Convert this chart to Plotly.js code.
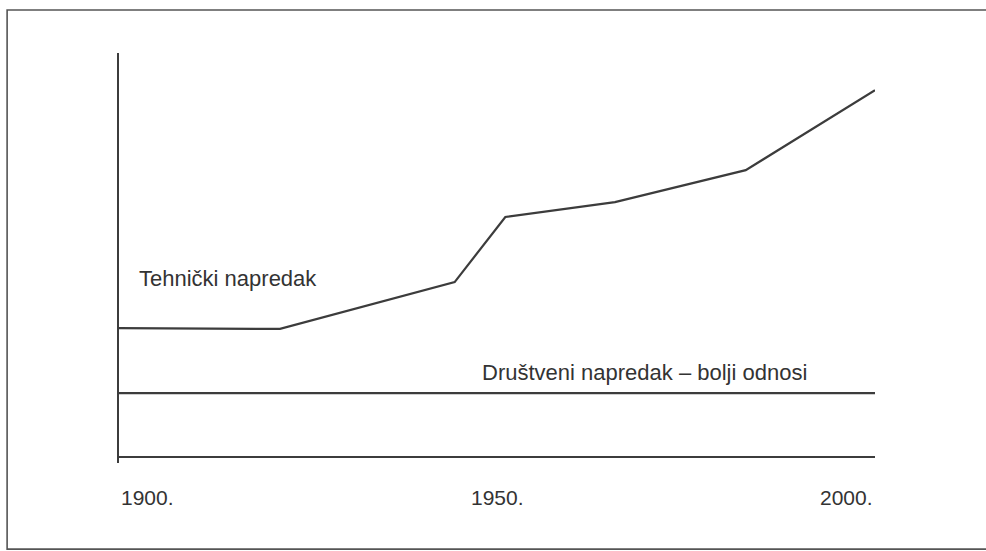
<!DOCTYPE html>
<html>
<head>
<meta charset="utf-8">
<script src="https://cdn.plot.ly/plotly-3.0.1.min.js"></script>
<style>
html,body{margin:0;padding:0;background:#fff;}
#chart{width:986px;height:551px;}
</style>
</head>
<body>
<div id="chart"></div>
<script>
// Data
const years = [1900, 1921.3, 1944.4, 1951.1, 1965.6, 1982.9, 2000];
const tehnicki = [31.9, 31.7, 43.3, 59.4, 63.1, 71.0, 90.8];
const drustveniYears = [1900, 2000];
const drustveni = [15.8, 15.8];
const tickYears = [1900, 1950, 2000];
const tickLabels = ["1900.", "1950.", "2000."];
const seriesNames = ["Tehnički napredak", "Društveni napredak – bolji odnosi"];

const lineColor = "#3c3c3c";
const textColor = "#333333";
const fontFam = "Liberation Sans, Arial, sans-serif";

const traces = [
  {x: years, y: tehnicki, mode: "lines", name: seriesNames[0],
   line: {color: lineColor, width: 2.2}, hoverinfo: "skip"},
  {x: drustveniYears, y: drustveni, mode: "lines", name: seriesNames[1],
   line: {color: lineColor, width: 2.2}, hoverinfo: "skip"}
];

const anchors = ["left", "center", "right"];
const annotations = tickYears.map((yr, i) => ({
  x: yr, y: -0.085, xref: "x", yref: "paper",
  text: tickLabels[i], showarrow: false, xanchor: anchors[i], yanchor: "middle",
  font: {family: fontFam, size: 21, color: textColor}
}));
annotations.push({
  x: 1902.4, y: 44.1, xref: "x", yref: "y", text: seriesNames[0], showarrow: false,
  xanchor: "left", yanchor: "middle", font: {family: fontFam, size: 22, color: textColor}
});
annotations.push({
  x: 1947.8, y: 21.0, xref: "x", yref: "y", text: seriesNames[1], showarrow: false,
  xanchor: "left", yanchor: "middle", font: {family: fontFam, size: 22, color: textColor}
});

const layout = {
  width: 986, height: 551,
  margin: {l: 119, r: 111, t: 53, b: 88},
  paper_bgcolor: "#ffffff", plot_bgcolor: "#ffffff",
  showlegend: false,
  xaxis: {range: [1900, 2000], showgrid: false, zeroline: false, showline: false,
          showticklabels: false, ticks: "", fixedrange: true},
  yaxis: {range: [-1.485, 100], showgrid: false, showticklabels: false, ticks: "",
          showline: true, linecolor: lineColor, linewidth: 2.2, mirror: false,
          zeroline: true, zerolinecolor: lineColor, zerolinewidth: 2.2, fixedrange: true},
  annotations: annotations,
  shapes: [{
    type: "rect", xref: "paper", yref: "paper",
    x0: -0.148, x1: 1.25, y0: -0.21, y1: 1.105,
    line: {color: "#555555", width: 1.6}, fillcolor: "rgba(0,0,0,0)", layer: "below"
  }]
};

Plotly.newPlot("chart", traces, layout, {displayModeBar: false, staticPlot: true});
</script>
</body>
</html>
